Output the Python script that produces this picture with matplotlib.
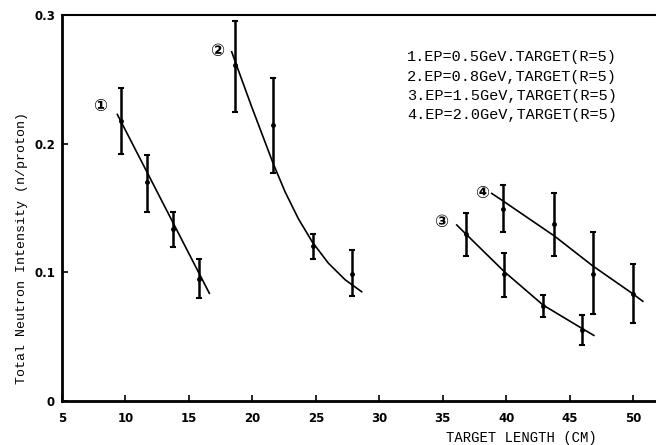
import matplotlib
matplotlib.use("Agg")
import matplotlib.pyplot as plt

# measured points (x = target length in cm, y = n/proton) with error bar ends
x1 = [9.65, 11.7, 13.75, 15.8]
y1 = [0.218, 0.170, 0.134, 0.095]
lo1 = [0.192, 0.147, 0.120, 0.080]
hi1 = [0.243, 0.191, 0.147, 0.110]

x2 = [18.6, 21.65, 24.8, 27.85]
y2 = [0.261, 0.2145, 0.1205, 0.099]
lo2 = [0.225, 0.177, 0.110, 0.0815]
hi2 = [0.295, 0.251, 0.1295, 0.117]

x3 = [36.8, 39.85, 42.9, 45.95]
y3 = [0.130, 0.099, 0.074, 0.055]
lo3 = [0.1127, 0.0806, 0.065, 0.0435]
hi3 = [0.1463, 0.1148, 0.0824, 0.0668]

x4 = [39.75, 43.8, 46.85, 49.95]
y4 = [0.149, 0.1375, 0.099, 0.083]
lo4 = [0.131, 0.1127, 0.068, 0.0608]
hi4 = [0.168, 0.162, 0.1316, 0.1062]

# hand-drawn fit curves
c1x = [9.36, 16.61]
c1y = [0.2227, 0.0837]
c2x = [18.37, 18.76, 19.94, 21.0, 21.65, 22.57, 23.62, 24.72, 25.98, 27.3, 28.61]
c2y = [0.2714, 0.2607, 0.2288, 0.2012, 0.1843, 0.1627, 0.1417, 0.1236, 0.1072, 0.0943, 0.0849]
c3x = [36.1, 36.8, 39.85, 42.9, 45.95, 46.9]
c3y = [0.1368, 0.130, 0.1005, 0.0746, 0.0565, 0.0510]
c4x = [38.86, 39.73, 43.8, 46.83, 49.92, 50.76]
c4y = [0.1613, 0.1556, 0.1282, 0.1049, 0.0837, 0.0775]

tags = ["\u2460", "\u2461", "\u2462", "\u2463"]
tag_x = [8.0, 17.2, 34.9, 38.1]
tag_y = [0.229, 0.272, 0.139, 0.162]

legend_lines = [
    "1.EP=0.5GeV.TARGET(R=5)",
    "2.EP=0.8GeV,TARGET(R=5)",
    "3.EP=1.5GeV,TARGET(R=5)",
    "4.EP=2.0GeV,TARGET(R=5)",
]

xticks = [5, 10, 15, 20, 25, 30, 35, 40, 45, 50]
yticks = [0, 0.1, 0.2, 0.3]
ytick_labels = ["0", "0.1", "0.2", "0.3"]

mono = ["Liberation Mono", "DejaVu Sans Mono"]

fig = plt.figure(figsize=(6.56, 4.45), dpi=100)
ax = fig.add_axes([62 / 656, 44 / 445, 594 / 656, 386 / 445])

series = [(x1, y1, lo1, hi1), (x2, y2, lo2, hi2), (x3, y3, lo3, hi3), (x4, y4, lo4, hi4)]
for xs, ys, lo, hi in series:
    err = [[y - l for y, l in zip(ys, lo)], [h - y for y, h in zip(ys, hi)]]
    ax.errorbar(xs, ys, yerr=err, fmt="o", color="black", ms=2.5,
                elinewidth=1.8, capsize=2.5, capthick=1.5)

for cx, cy in [(c1x, c1y), (c2x, c2y), (c3x, c3y), (c4x, c4y)]:
    ax.plot(cx, cy, color="black", lw=1.2)

for t, tx, ty in zip(tags, tag_x, tag_y):
    ax.text(tx, ty, t, fontsize=12, fontweight="bold", ha="center", va="center",
            family=["DejaVu Sans", "Noto Sans CJK SC"])

for i, line in enumerate(legend_lines):
    fig.text(407 / 656, 1 - (57 + 19.5 * i) / 445, line, fontsize=11,
             family=mono, ha="left", va="center")

ax.set_xlim(5, 51.8)
ax.set_ylim(0, 0.3)
ax.set_xticks(xticks)
ax.set_yticks(yticks)
ax.set_yticklabels(ytick_labels)
ax.tick_params(direction="in", length=4, width=1.2, labelsize=8.5)
ax.tick_params(axis="x", pad=8)
ax.tick_params(axis="y", pad=5)
for lab in ax.get_xticklabels() + ax.get_yticklabels():
    lab.set_fontweight("bold")

ax.spines["right"].set_visible(False)
ax.spines["left"].set_linewidth(2)
ax.spines["bottom"].set_linewidth(2)
ax.spines["top"].set_linewidth(1.5)

fig.text(22 / 656, 1 - 248 / 445, "Total Neutron Intensity (n/proton)",
         rotation=90, ha="center", va="center", fontsize=9.5, family=mono)
fig.text(521 / 656, 1 - 438 / 445, "TARGET LENGTH (CM)", ha="center",
         va="center", fontsize=10, family=mono)

fig.savefig("out.png", dpi=100)
